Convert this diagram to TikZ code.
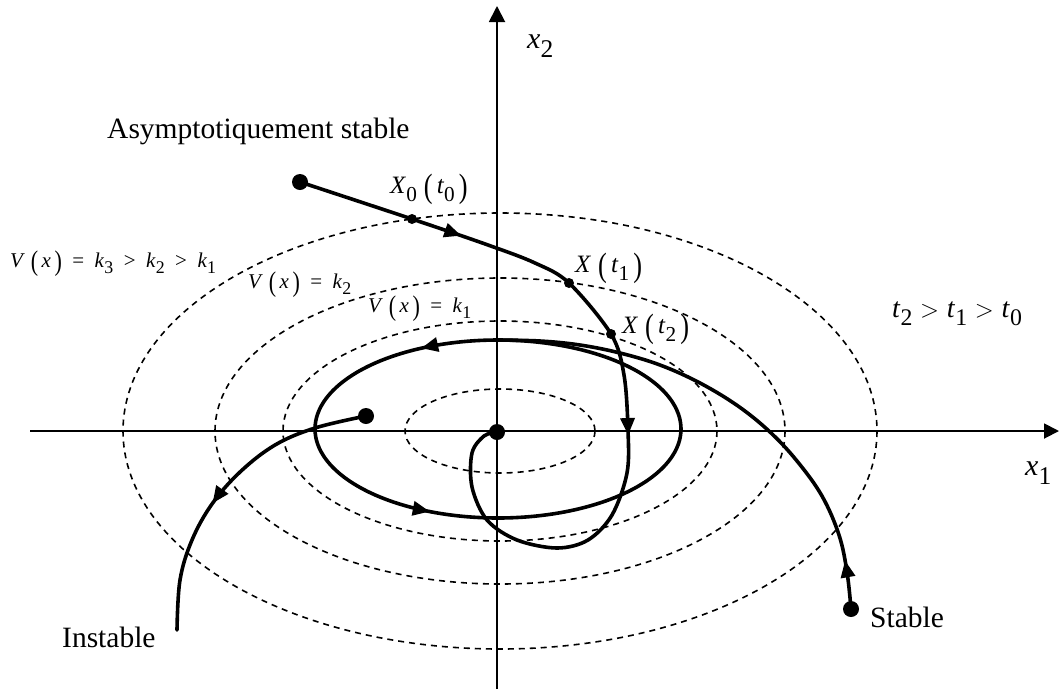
\documentclass[tikz,border=0pt]{standalone}
\usepackage{fontspec}
\setmainfont{Liberation Serif}
\usepackage{graphicx}
\usetikzlibrary{arrows.meta,decorations.markings}
\newcommand\lpar{\raisebox{-.16em}{\scalebox{1.05}[1.35]{(}}}
\newcommand\rpar{\raisebox{-.16em}{\scalebox{1.05}[1.35]{)}}}
\newcommand\sbx[1]{\raisebox{-.32em}{\scalebox{0.85}{#1}}}
\begin{document}
\begin{tikzpicture}[x=1pt,y=-1pt,
  axis/.style={line width=1.9pt},
  lvl/.style={line width=1.6pt, dash pattern=on 6pt off 5pt},
  traj/.style={line width=3.6pt, line cap=round, line join=round},
  bigdot/.style={circle, fill=black, inner sep=0pt, minimum size=16pt},
  smalldot/.style={circle, fill=black, inner sep=0pt, minimum size=10pt},
  lbl/.style={font=\fontsize{29.5}{32}\selectfont, inner sep=0pt, anchor=base west},
  mlbl/.style={inner sep=0pt, anchor=base west},
  arr/.style={decoration={markings, mark=at position #1 with {\arrow{Triangle[length=17pt,width=14pt]}}}, postaction=decorate},
]
\useasboundingbox (0,0) rectangle (1059,689);

% axes
\coordinate (xl) at (30,431);
\coordinate (xr) at (1059,431);
\coordinate (yb) at (497,689);
\coordinate (yt) at (497,6);
\draw[axis, -{Triangle[length=15pt,width=15pt]}] (xl) -- (xr);
\draw[axis, -{Triangle[length=16pt,width=16pt]}] (yb) -- (yt);

% level sets
\draw[lvl] (500,431) ellipse [x radius=95, y radius=42];
\draw[lvl] (500,431) ellipse [x radius=217, y radius=110];
\draw[lvl] (500,431) ellipse [x radius=285, y radius=153];
\draw[lvl] (500,431) ellipse [x radius=377, y radius=218];

% coordinates of the dots
\coordinate (s0) at (300,182);
\coordinate (x0) at (412,219);
\coordinate (t1) at (569,283);
\coordinate (t2) at (611,334);
\coordinate (o)  at (497,432);
\coordinate (ui) at (366,416);
\coordinate (st) at (851,609);

% limit cycle
\draw[traj, decoration={markings,
   mark=at position 0.338 with {\arrow{Triangle[length=17pt,width=14pt]}},
   mark=at position 0.672 with {\arrow{Triangle[length=17pt,width=14pt]}}},
   postaction=decorate]
  plot[domain=0:360, samples=145, smooth] ({498+183*cos(\x)},{429-89*sin(\x)}) -- cycle;

% asymptotically stable trajectory
\draw[traj, decoration={markings,
   mark=at position 170pt with {\arrow{Triangle[length=17pt,width=14pt]}},
   mark=at position 458pt with {\arrow{Triangle[length=17pt,width=14pt]}}},
   postaction=decorate]
  plot[smooth, tension=0.55] coordinates {(s0) (x0) (488,245) (535,263) (t1) (t2) (624,375) (628,430) (627,473) (612,515) (588,540) (557,548) (517,540) (487,520) (472,487) (472,453) (484,436) (o)};

% unstable trajectory
\draw[traj, arr=182pt]
  plot[smooth, tension=0.6] coordinates {(ui) (315,428) (275,445) (240,472) (212,504) (192,540) (180,580) (177,630)};

% stable trajectory
\draw[traj, arr=49pt]
  plot[smooth, tension=0.6] coordinates {(st) (847,572) (839,535) (822,496) (797,461) (770,432) (738,406) (700,383) (660,365) (620,353) (580,345) (540,341) (495,340)};

% dots
\node[bigdot] (ds0) at (s0) {};
\node[smalldot] (dx0) at (x0) {};
\node[smalldot] (dt1) at (t1) {};
\node[smalldot] (dt2) at (t2) {};
\node[bigdot] (do) at (o) {};
\node[bigdot] (dui) at (ui) {};
\node[bigdot] (dst) at (st) {};

% labels
\node[lbl] (asym) at (107,138) {Asymptotiquement stable};
\node[lbl] (inst) at (62,647) {Instable};
\node[lbl] (stab) at (870,627) {Stable};

\node[mlbl, font=\fontsize{30}{32}\selectfont\itshape] (lx2) at (527,48) {x\sbx{\upshape 2}};
\node[mlbl, font=\fontsize{30}{32}\selectfont\itshape] (lx1) at (1025,475) {x\sbx{\upshape 1}};
\node[mlbl, font=\fontsize{28}{30}\selectfont] (lt) at (892,317) {\textit{t}\sbx{2}\;\(>\)\;\textit{t}\sbx{1}\;\(>\)\;\textit{t}\sbx{0}};

\node[mlbl, font=\fontsize{25}{27}\selectfont] (lX0) at (390,193) {\textit{X}\sbx{0}\;\lpar\,\textit{t}\sbx{0}\,\rpar};
\node[mlbl, font=\fontsize{25}{27}\selectfont] (lX1) at (575,272) {\textit{X}\;\lpar\,\textit{t}\sbx{1}\,\rpar};
\node[mlbl, font=\fontsize{25}{27}\selectfont] (lX2) at (622,333) {\textit{X}\;\lpar\,\textit{t}\sbx{2}\,\rpar};

\node[mlbl, font=\fontsize{21}{23}\selectfont] (lV3) at (10,267) {\textit{V}\;\lpar\,\textit{x}\,\rpar\enspace=\enspace\textit{k}\sbx{3}\enspace>\enspace\textit{k}\sbx{2}\enspace>\enspace\textit{k}\sbx{1}};
\node[mlbl, font=\fontsize{21}{23}\selectfont] (lV2) at (248,288) {\textit{V}\;\lpar\,\textit{x}\,\rpar\enspace=\enspace\textit{k}\sbx{2}};
\node[mlbl, font=\fontsize{21}{23}\selectfont] (lV1) at (368,312) {\textit{V}\;\lpar\,\textit{x}\,\rpar\enspace=\enspace\textit{k}\sbx{1}};
\end{tikzpicture}
\end{document}
